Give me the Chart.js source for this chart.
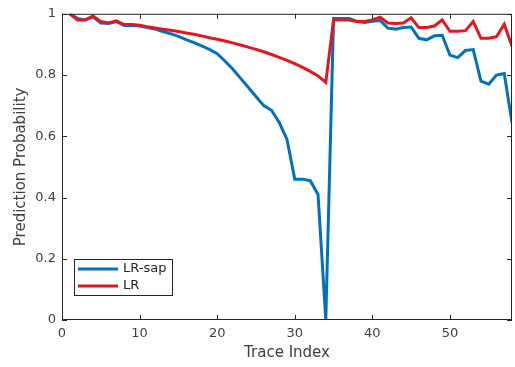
<!DOCTYPE html>
<html>
<head>
<meta charset="utf-8">
<script src="https://cdn.jsdelivr.net/npm/chart.js@4"></script>
<style>
  html, body { margin: 0; padding: 0; background: #fff; }
  #wrap { width: 515px; height: 367px; position: relative; }
</style>
</head>
<body>
<div id="wrap"><canvas id="chart"></canvas></div>
<script>
var traceIndex = [1, 2, 3, 4, 5, 6, 7, 8, 9, 10, 11, 12, 13, 14, 15, 16, 17, 18, 19, 20,
  21, 22, 23, 24, 25, 26, 27, 28, 29, 30, 31, 32, 33, 34, 35, 36, 37, 38, 39, 40,
  41, 42, 43, 44, 45, 46, 47, 48, 49, 50, 51, 52, 53, 54, 55, 56, 57, 58];

var lrSap = [1.0, 0.985, 0.98, 0.99, 0.97, 0.968, 0.975, 0.962, 0.962, 0.96,
  0.955, 0.95, 0.942, 0.935, 0.926, 0.916, 0.906, 0.895, 0.884, 0.87,
  0.846, 0.82, 0.79, 0.76, 0.73, 0.70, 0.685, 0.645, 0.59, 0.46,
  0.46, 0.455, 0.41, 0.0, 0.985, 0.985, 0.985, 0.975, 0.972, 0.976,
  0.978, 0.953, 0.95, 0.955, 0.957, 0.92, 0.915, 0.928, 0.93, 0.865,
  0.857, 0.88, 0.883, 0.78, 0.77, 0.80, 0.805, 0.645];

var lr = [1.0, 0.98, 0.98, 0.993, 0.975, 0.97, 0.977, 0.965, 0.965, 0.963,
  0.958, 0.954, 0.95, 0.946, 0.942, 0.937, 0.933, 0.928, 0.922, 0.917,
  0.911, 0.905, 0.898, 0.891, 0.884, 0.876, 0.867, 0.858, 0.848, 0.837,
  0.825, 0.812, 0.797, 0.776, 0.98, 0.98, 0.98, 0.975, 0.975, 0.98,
  0.989, 0.97, 0.968, 0.97, 0.987, 0.955, 0.955, 0.96, 0.98, 0.943,
  0.943, 0.945, 0.975, 0.92, 0.92, 0.925, 0.966, 0.894];

var xTicks = [0, 10, 20, 30, 40, 50];
var yTicks = [0, 0.2, 0.4, 0.6, 0.8, 1];
var yTickLabels = ['0', '0.2', '0.4', '0.6', '0.8', '1'];

var axisColor = '#262626';
var textColor = '#404040';
var fontFamily = '"DejaVu Sans", sans-serif';

function points(ys) {
  return traceIndex.map(function (x, i) { return { x: x, y: ys[i] }; });
}

// box round the plot, inward ticks on all four sides, legend in the lower left
var matlabAxes = {
  id: 'matlabAxes',
  afterDatasetsDraw: function (chart) {
    var ctx = chart.ctx;
    var a = chart.chartArea;
    var xs = chart.scales.x, ys = chart.scales.y;
    var tl = 5;
    ctx.save();
    ctx.strokeStyle = axisColor;
    ctx.lineWidth = 1;
    ctx.strokeRect(a.left + 0.5, a.top + 0.5, a.right - a.left - 1, a.bottom - a.top - 1);
    ctx.beginPath();
    xTicks.forEach(function (v) {
      var px = Math.round(xs.getPixelForValue(v)) + 0.5;
      ctx.moveTo(px, a.bottom); ctx.lineTo(px, a.bottom - tl);
      ctx.moveTo(px, a.top); ctx.lineTo(px, a.top + tl);
    });
    yTicks.forEach(function (v) {
      var py = Math.round(ys.getPixelForValue(v)) + 0.5;
      ctx.moveTo(a.left, py); ctx.lineTo(a.left + tl, py);
      ctx.moveTo(a.right, py); ctx.lineTo(a.right - tl, py);
    });
    ctx.stroke();

    // legend
    var lx = 74, ly = 259, lw = 98, lh = 36;
    ctx.fillStyle = '#fff';
    ctx.fillRect(lx, ly, lw, lh);
    ctx.strokeRect(lx + 0.5, ly + 0.5, lw, lh);
    ctx.font = '13px ' + fontFamily;
    ctx.textBaseline = 'middle';
    chart.data.datasets.forEach(function (ds, i) {
      var y = ly + 10 + i * 17;
      ctx.strokeStyle = ds.borderColor;
      ctx.lineWidth = 3;
      ctx.beginPath();
      ctx.moveTo(lx + 4, y); ctx.lineTo(lx + 44, y);
      ctx.stroke();
      ctx.fillStyle = axisColor;
      ctx.fillText(ds.label, lx + 49, y);
    });
    ctx.restore();
  }
};

new Chart(document.getElementById('chart'), {
  type: 'line',
  data: {
    datasets: [{
      label: 'LR-sap',
      data: points(lrSap),
      borderColor: '#0072BD',
      borderWidth: 3,
      pointRadius: 0,
      tension: 0,
      fill: false,
      order: 2
    }, {
      label: 'LR',
      data: points(lr),
      borderColor: '#E3171E',
      borderWidth: 3,
      pointRadius: 0,
      tension: 0,
      fill: false,
      order: 1
    }]
  },
  options: {
    responsive: true,
    maintainAspectRatio: false,
    animation: false,
    layout: { padding: { top: 5, right: 3, left: 0, bottom: 0 } },
    plugins: {
      legend: { display: false },
      tooltip: { enabled: false }
    },
    scales: {
      x: {
        type: 'linear',
        min: 0,
        max: 58,
        grid: { display: false, drawTicks: false },
        border: { display: false },
        afterBuildTicks: function (s) { s.ticks = xTicks.map(function (v) { return { value: v }; }); },
        afterFit: function (s) { s.height = 47; },
        ticks: {
          color: textColor,
          padding: 6,
          maxRotation: 0,
          autoSkip: false,
          font: { family: fontFamily, size: 13 }
        },
        title: {
          display: true,
          text: 'Trace Index',
          color: textColor,
          padding: { top: 0, bottom: 5 },
          font: { family: fontFamily, size: 15 }
        }
      },
      y: {
        min: 0,
        max: 1,
        grid: { display: false, drawTicks: false },
        border: { display: false },
        afterBuildTicks: function (s) { s.ticks = yTicks.map(function (v) { return { value: v }; }); },
        afterFit: function (s) { s.width = 62; },
        ticks: {
          color: textColor,
          padding: 6,
          autoSkip: false,
          font: { family: fontFamily, size: 13 },
          callback: function (v) { return yTickLabels[yTicks.indexOf(v)]; }
        },
        title: {
          display: true,
          text: 'Prediction Probability',
          color: textColor,
          padding: { top: 12, bottom: 0 },
          font: { family: fontFamily, size: 15 }
        }
      }
    }
  },
  plugins: [matlabAxes]
});
</script>
</body>
</html>
